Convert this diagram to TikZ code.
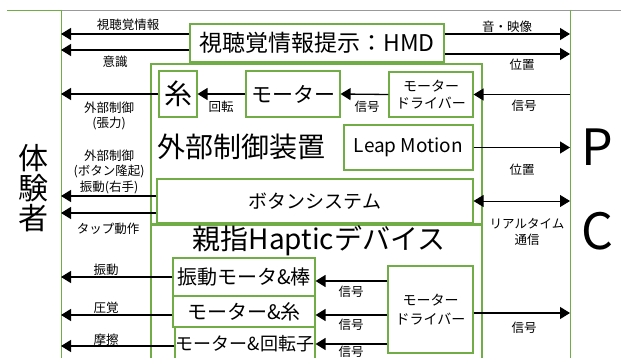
\documentclass[tikz,border=0pt]{standalone}
\usepackage{fontspec}
\setmainfont{Noto Sans CJK JP}
\usetikzlibrary{arrows.meta}
\definecolor{boxgreen}{RGB}{112,173,71}
\tikzset{
    box/.style={draw=boxgreen, line width=1.1pt, inner sep=0pt, align=center},
    arr/.style={-{Triangle[length=10pt,width=12pt]}, line width=1.3pt},
    lbl/.style={font=\fontsize{12.5}{15.5}\selectfont, align=center, inner sep=0pt},
    sideline/.style={boxgreen, line width=0.8pt},
}

\begin{document}
\begin{tikzpicture}[x=1pt, y=-1pt]
    \useasboundingbox (0,0) rectangle (621,358);
    % frame
    \draw[sideline] (7,10) -- (61,10);
    \draw[gray!80, line width=0.8pt] (61,10) -- (621,10);
    \draw[sideline] (61,10) -- (61,358);
    \draw[sideline] (570,10) -- (570,358);
    \coordinate (pl) at (61,10);
    \coordinate (pr) at (570,10);

    % side names
    \node[font=\fontsize{30}{30}\selectfont, align=center] (user) at (34,188) {体\\験\\者};
    \node[font=\fontsize{50}{50}\selectfont] (pcp) at (597,147) {P};
    \node[font=\fontsize{50}{50}\selectfont] (pcc) at (597,231) {C};

    % boxes
    \node[box, minimum width=254pt, minimum height=38pt, font=\fontsize{23}{23}\selectfont] (hmd) at (317,43) {視聴覚情報提示：HMD};
    \node[box, minimum width=331pt, minimum height=160pt] (ctrl) at (316.5,144) {};
    \node[font=\fontsize{28}{28}\selectfont] (ctrltxt) at (241,147) {外部制御装置};
    \node[box, minimum width=38pt, minimum height=46pt, font=\fontsize{28}{28}\selectfont] (ito) at (178,94) {糸};
    \node[box, minimum width=94pt, minimum height=46pt, font=\fontsize{21}{21}\selectfont] (motor) at (293,94) {モーター};
    \node[box, minimum width=84pt, minimum height=45pt, font=\fontsize{14}{17}\selectfont] (drvA) at (431,94.5) {モーター\\ドライバー};
    \node[box, minimum width=129pt, minimum height=45pt, font=\fontsize{19}{19}\selectfont] (leap) at (408.5,147.5) {Leap Motion};
    \node[box, minimum width=316pt, minimum height=44pt, font=\fontsize{19}{19}\selectfont] (btn) at (315,201) {ボタンシステム};

    \node[box, minimum width=331pt, minimum height=150pt] (hap) at (316.5,300) {};
    \node[font=\fontsize{28}{28}\selectfont] (haptxt) at (319,241) {親指Hapticデバイス};
    \node[box, minimum width=142pt, minimum height=38pt, font=\fontsize{20}{20}\selectfont] (vib) at (244,277) {振動モータ\&棒};
    \node[box, minimum width=142pt, minimum height=31pt, font=\fontsize{20}{20}\selectfont] (mito) at (244,311.5) {モーター\&糸};
    \node[box, minimum width=140pt, minimum height=34pt, font=\fontsize{18}{18}\selectfont] (rot) at (245,344) {モーター\&回転子};
    \node[box, minimum width=85pt, minimum height=87pt, font=\fontsize{14}{19}\selectfont] (drvB) at (430.5,309.5) {モーター\\ドライバー};

    % HMD connectors
    \draw[arr] ([yshift=9pt]hmd.west) coordinate (a1) -- (a1 -| pl);
    \draw[arr] ([yshift=-7pt]hmd.west) coordinate (a2) -- (a2 -| pl);
    \draw[arr] ([yshift=9pt]hmd.east) coordinate (a3) -- (a3 -| pr);
    \draw[arr] ([yshift=-11pt]hmd.east) coordinate (a4) -- (a4 -| pr);
    \node[lbl] (la1) at (128,25) {視聴覚情報};
    \node[lbl] (la2) at (115,62) {意識};
    \node[lbl] (la3) at (507,27) {音・映像};
    \node[lbl] (la4) at (522,65) {位置};

    % external control connectors
    \draw[arr] (ito.west) -- (ito.west -| pl);
    \draw[arr] (motor.west) -- (ito.east);
    \draw[arr] (drvA.west) -- (motor.east);
    \draw[arr] (drvA.east -| pr) -- (drvA.east);
    \draw[arr] (leap.east) -- (leap.east -| pr);
    \node[lbl] (lb1) at (109,116) {外部制御\\(張力)};
    \node[lbl] (lb2) at (221,107) {回転};
    \node[lbl] (lb3) at (367,107) {信号};
    \node[lbl] (lb4) at (524,106) {信号};
    \node[lbl] (lb5) at (522,170) {位置};

    % button connectors
    \draw[arr] ([yshift=5pt]btn.west) coordinate (b1) -- (b1 -| pl);
    \draw[arr] ([yshift=-12pt]btn.west) coordinate (b2) -- (b2 -| pl);
    \draw[{Triangle[length=10pt,width=12pt]}-{Triangle[length=10pt,width=12pt]}, line width=0.8pt] (btn.east) -- (btn.east -| pr);
    \node[lbl] (lc1) at (109,171.5) {外部制御\\(ボタン隆起)\\振動(右手)};
    \node[lbl] (lc2) at (108,229) {タップ動作};
    \node[lbl] (lc3) at (527,232) {リアルタイム\\通信};

    % haptic device connectors
    \draw[arr] (vib.west) -- (vib.west -| pl);
    \draw[arr] ([yshift=-3.5pt]mito.west) coordinate (c2) -- (c2 -| pl);
    \draw[arr] ([yshift=-2pt]rot.west) coordinate (c3) -- (c3 -| pl);
    \draw[arr] ([yshift=28.5pt]drvB.west) coordinate (d1) -- (d1 -| vib.east);
    \draw[arr] ([yshift=-5.5pt]drvB.west) coordinate (d2) -- (d2 -| mito.east);
    \draw[arr] ([yshift=-34.5pt]drvB.west) coordinate (d3) -- (d3 -| rot.east);
    \draw[arr] ([yshift=-3.5pt]drvB.east) coordinate (d4) -- (d4 -| pr) ;
    \node[lbl] (ld1) at (106,270) {振動};
    \node[lbl] (ld2) at (106,308) {圧覚};
    \node[lbl] (ld3) at (106,340) {摩擦};
    \node[lbl] (ld4) at (351,292) {信号};
    \node[lbl] (ld5) at (351,325) {信号};
    \node[lbl] (ld6) at (351,352) {信号};
    \node[lbl] (ld7) at (524,328) {信号};
\end{tikzpicture}
\end{document}
